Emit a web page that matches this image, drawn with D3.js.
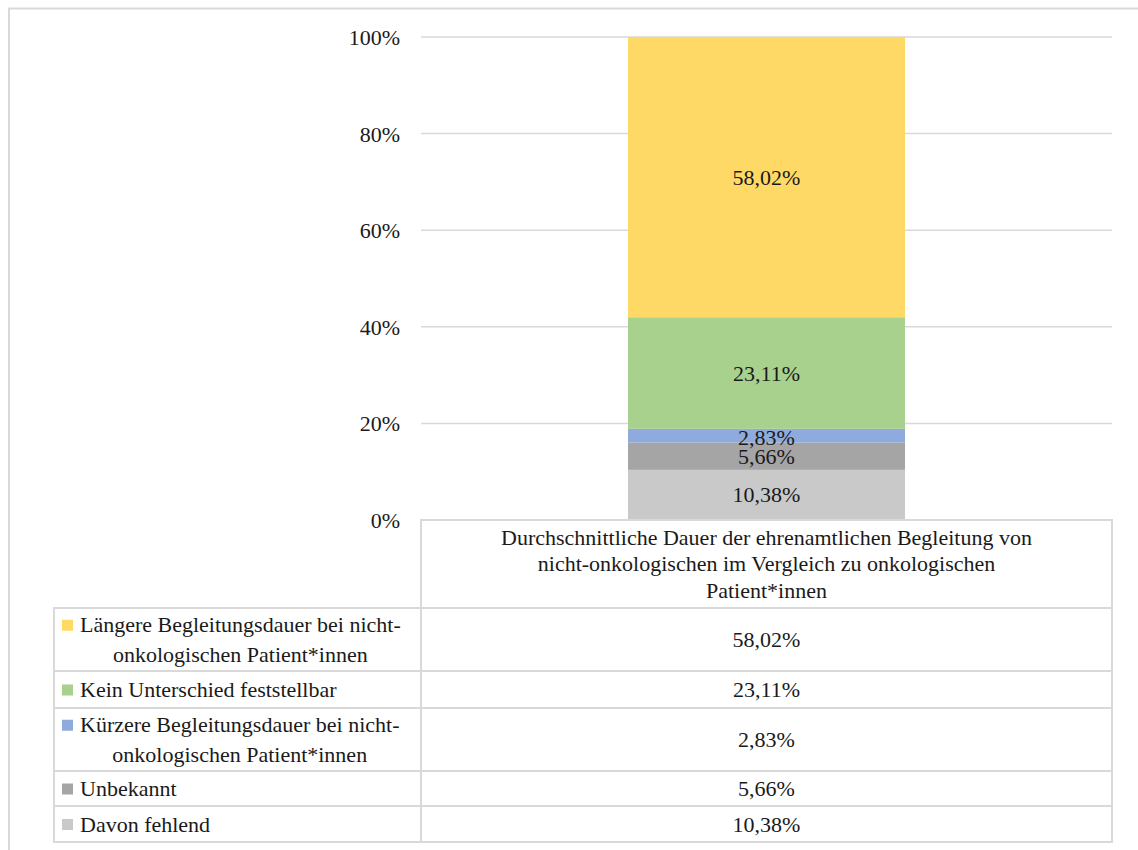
<!DOCTYPE html>
<html><head><meta charset="utf-8">
<script src="https://cdn.jsdelivr.net/npm/d3@7"></script>
</head><body style="margin:0;background:#fff">
<svg id="c" width="1138" height="850" style="display:block"></svg>
<script>
const categoryLabel = ["Durchschnittliche Dauer der ehrenamtlichen Begleitung von", "nicht-onkologischen im Vergleich zu onkologischen", "Patient*innen"];
// bottom-to-top stacking order
const seriesNames = [
  ["Davon fehlend"],
  ["Unbekannt"],
  ["Kürzere Begleitungsdauer bei nicht-", "onkologischen Patient*innen"],
  ["Kein Unterschied feststellbar"],
  ["Längere Begleitungsdauer bei nicht-", "onkologischen Patient*innen"]
];
const seriesValues = [10.38, 5.66, 2.83, 23.11, 58.02];
const seriesColors = ["#C9C9C9", "#A5A5A5", "#8FAADC", "#A9D18E", "#FFD966"];
const yTicks = [0, 20, 40, 60, 80, 100];

const FONT = "Liberation Serif";
const svg = d3.select("#c");
const fmt = v => v.toFixed(2).replace(".", ",") + "%";
const FS = 22;
const TXT = "#1a1a1a";

function txt(sel) {
  return sel.append("text").attr("font-family", FONT).attr("font-size", FS).attr("fill", TXT);
}

// outer border
svg.append("rect").attr("x", 9).attr("y", 8.5).attr("width", 1140).attr("height", 860)
  .attr("fill", "none").attr("stroke", "#D9D9D9").attr("stroke-width", 2);

const plotL = 421, plotR = 1112, plotT = 37, plotB = 520;
const y = d3.scaleLinear().domain([0, 100]).range([plotB, plotT]);

// gridlines
svg.append("g").selectAll("line").data(yTicks.filter(t => t > 0)).join("line")
  .attr("x1", plotL).attr("x2", plotR).attr("y1", d => y(d)).attr("y2", d => y(d))
  .attr("stroke", "#D9D9D9").attr("stroke-width", 1.5);

// y axis
const yAxis = d3.axisLeft(y).tickValues(yTicks).tickFormat(d => d + "%").tickSize(0).tickPadding(21);
const ga = svg.append("g").attr("transform", `translate(${plotL},0)`).call(yAxis);
ga.attr("font-family", FONT).attr("font-size", FS);
ga.select(".domain").remove();
ga.selectAll("text").attr("fill", TXT).attr("dy", null).attr("dominant-baseline", "central")
  .attr("font-family", FONT).attr("font-size", FS);

// stacked bar
let cum = 0;
const stackData = seriesValues.map((v, i) => { const d = {i, v, y0: cum, y1: cum + v}; cum += v; return d; });
const bw = 277;
const bx = (plotL + plotR) / 2 - bw / 2;
svg.append("g").selectAll("rect").data(stackData).join("rect")
  .attr("x", bx).attr("width", bw)
  .attr("y", d => y(d.y1)).attr("height", d => y(d.y0) - y(d.y1))
  .attr("fill", d => seriesColors[d.i]);
const lg = svg.append("g");
stackData.forEach(d => {
  const c = (y(d.y0) + y(d.y1)) / 2;
  txt(lg).attr("x", (plotL + plotR) / 2).attr("y", d.i === 2 ? c + 2 : c)
    .attr("text-anchor", "middle").attr("dominant-baseline", "central").text(fmt(d.v));
});

// data table
const tL = 54, tM = plotL, tR = plotR;
const headerTop = 520, headerBot = 608;
const rowsTop = [608, 671, 708, 771, 806];
const rowsBot = [671, 708, 771, 806, 842];
const border = "#D9D9D9";
const tg = svg.append("g");
tg.append("rect").attr("x", tM).attr("y", headerTop).attr("width", tR - tM).attr("height", headerBot - headerTop)
  .attr("fill", "none").attr("stroke", border).attr("stroke-width", 2);
categoryLabel.forEach((l, k) => {
  txt(tg).attr("x", (tM + tR) / 2).attr("y", 537 + k * 26.5).attr("text-anchor", "middle")
    .attr("dominant-baseline", "central").text(l);
});
const order = [4, 3, 2, 1, 0];
order.forEach((si, r) => {
  const t = rowsTop[r], b = rowsBot[r];
  tg.append("rect").attr("x", tL).attr("y", t).attr("width", tM - tL).attr("height", b - t)
    .attr("fill", "none").attr("stroke", border).attr("stroke-width", 2);
  tg.append("rect").attr("x", tM).attr("y", t).attr("width", tR - tM).attr("height", b - t)
    .attr("fill", "none").attr("stroke", border).attr("stroke-width", 2);
  const lines = seriesNames[si];
  const lh = 29.5;
  const cy = (t + b) / 2;
  const firstY = cy - (lines.length - 1) * lh / 2;
  tg.append("rect").attr("x", 62).attr("y", firstY - 5).attr("width", 11).attr("height", 11)
    .attr("fill", seriesColors[si]);
  const t1 = txt(tg).attr("x", 80).attr("y", firstY).attr("dominant-baseline", "central").text(lines[0]);
  if (lines.length > 1) {
    const w1 = t1.node().getComputedTextLength();
    txt(tg).attr("x", 80 + w1 / 2).attr("y", firstY + lh).attr("dominant-baseline", "central")
      .attr("text-anchor", "middle").text(lines[1]);
  }
  txt(tg).attr("x", (tM + tR) / 2).attr("y", cy).attr("dominant-baseline", "central")
    .attr("text-anchor", "middle").text(fmt(seriesValues[si]));
});
</script>
</body></html>
